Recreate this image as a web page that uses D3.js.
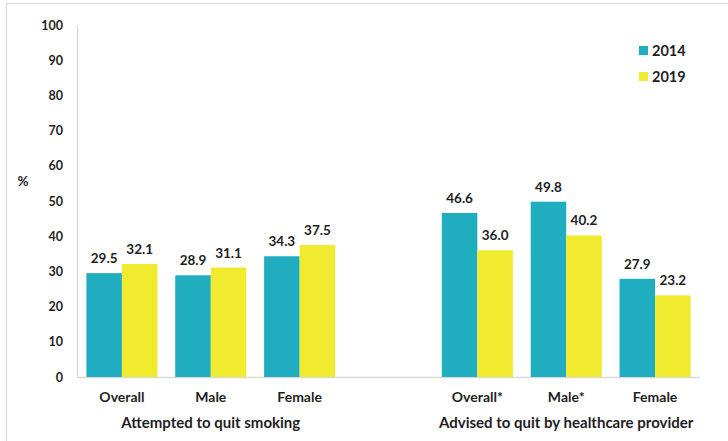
<!DOCTYPE html>
<html>
<head>
<meta charset="utf-8">
<script src="https://cdn.jsdelivr.net/npm/d3@7"></script>
<style>
  html, body { margin: 0; padding: 0; background: #fff; }
  svg { display: block; font-family: Lato, "Open Sans", sans-serif; font-weight: 700; }
</style>
</head>
<body>
<svg id="chart" width="728" height="441"></svg>
<script>
// Categories: two panels of three bars each, separated by an empty slot
const categories = ["Overall", "Male", "Female", "", "Overall*", "Male*", "Female "];
const categoryLabels = ["Overall", "Male", "Female", "", "Overall*", "Male*", "Female"];
const years = ["2014", "2019"];
const values2014 = [29.5, 28.9, 34.3, null, 46.6, 49.8, 27.9];
const values2019 = [32.1, 31.1, 37.5, null, 36.0, 40.2, 23.2];
const yTicks = [0, 10, 20, 30, 40, 50, 60, 70, 80, 90, 100];
const groupTitles = ["Attempted to quit smoking", "Advised to quit by healthcare provider"];
const groupMembers = [["Overall", "Male", "Female"], ["Overall*", "Male*", "Female "]];

const colors = { "2014": "#1fadbf", "2019": "#f0eb2f" };
const textColor = "#1e1e1e";
const gridGrey = "#d9d9d9";

const svg = d3.select("#chart");

// frame
svg.append("rect")
  .attr("x", 6.5).attr("y", 3.5)
  .attr("width", 740).attr("height", 460)
  .attr("fill", "none").attr("stroke", "#dcdcdc").attr("stroke-width", 1.2);

const x0 = d3.scaleBand().domain(categories).range([77.5, 699.5])
  .paddingInner(0.2).paddingOuter(0.1);
const x1 = d3.scaleBand().domain(years).range([0, x0.bandwidth()]);
const y = d3.scaleLinear().domain([0, 100]).range([377, 25]);

// y axis: light line, no ticks
const yAxis = d3.axisLeft(y).tickValues(yTicks).tickSize(0).tickPadding(14);
const yG = svg.append("g").attr("transform", "translate(77,0)").call(yAxis);
yG.select(".domain").attr("stroke", gridGrey).attr("stroke-width", 1.5);
yG.selectAll("text").attr("fill", textColor).attr("font-size", 12.5)
  .attr("font-family", "Lato, sans-serif").attr("font-weight", 700);

// x axis baseline
const xAxis = d3.axisBottom(x0).tickSize(0).tickPadding(15)
  .tickFormat((d, i) => categoryLabels[i]);
const xG = svg.append("g").attr("transform", "translate(0,377)").call(xAxis);
xG.select(".domain").attr("stroke", gridGrey).attr("stroke-width", 1.5);
xG.selectAll("text").attr("fill", textColor).attr("font-size", 14)
  .attr("font-family", "Lato, sans-serif").attr("font-weight", 700);

// bars
const rows = categories.map((c, i) => ({ cat: c, vals: [values2014[i], values2019[i]] }))
  .filter(r => r.vals[0] != null);

const groups = svg.append("g").selectAll("g").data(rows).join("g")
  .attr("transform", d => `translate(${x0(d.cat)},0)`);

groups.selectAll("rect").data(d => years.map((yr, k) => ({ yr, v: d.vals[k] })))
  .join("rect")
  .attr("x", d => x1(d.yr))
  .attr("width", x1.bandwidth())
  .attr("y", d => y(d.v))
  .attr("height", d => y(0) - y(d.v))
  .attr("fill", d => colors[d.yr]);

groups.selectAll("text").data(d => years.map((yr, k) => ({ yr, v: d.vals[k] })))
  .join("text")
  .attr("x", d => x1(d.yr) + x1.bandwidth() / 2)
  .attr("y", d => y(d.v) - 10)
  .attr("text-anchor", "middle")
  .attr("fill", textColor)
  .attr("font-size", 13.5)
  .text(d => d.v.toFixed(1));

// panel titles
groupTitles.forEach((t, i) => {
  const m = groupMembers[i];
  const cx = (x0(m[0]) + x0(m[m.length - 1]) + x0.bandwidth()) / 2;
  svg.append("text")
    .attr("x", cx).attr("y", 428)
    .attr("text-anchor", "middle")
    .attr("fill", textColor)
    .attr("font-size", 15)
    .text(t);
});

// y label
svg.append("text")
  .attr("x", 23).attr("y", 186)
  .attr("text-anchor", "middle")
  .attr("fill", textColor)
  .attr("font-size", 13.5)
  .text("%");

// legend
const legend = svg.append("g").attr("transform", "translate(639,46)");
years.forEach((yr, k) => {
  legend.append("rect")
    .attr("x", 0).attr("y", k * 26)
    .attr("width", 9).attr("height", 9)
    .attr("fill", colors[yr]);
  legend.append("text")
    .attr("x", 13).attr("y", k * 26 + 9.5)
    .attr("fill", textColor)
    .attr("font-size", 14.5)
    .text(yr);
});
</script>
</body>
</html>
